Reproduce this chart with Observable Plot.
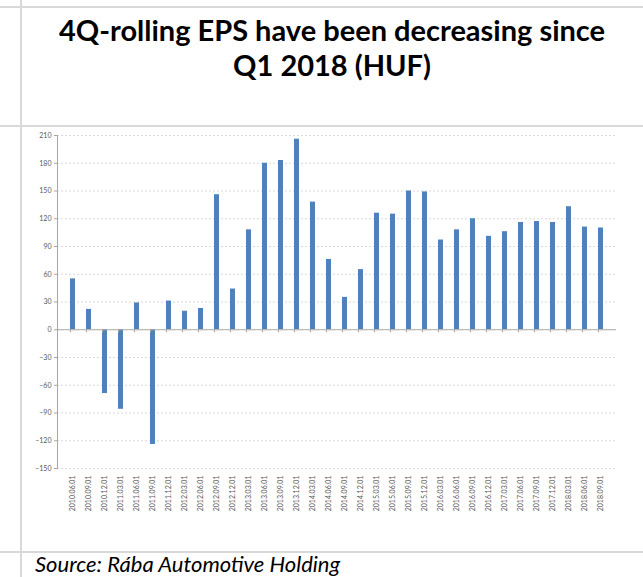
<!DOCTYPE html>
<html>
<head>
<meta charset="utf-8">
<script src="https://cdn.jsdelivr.net/npm/d3@7"></script>
<script src="https://cdn.jsdelivr.net/npm/@observablehq/plot@0.6"></script>
<style>
  html, body { margin: 0; padding: 0; background: #fff; }
  #page { position: relative; width: 643px; height: 577px; overflow: hidden; font-family: Lato, "Open Sans", sans-serif; }
  .hline { position: absolute; left: 0; width: 643px; height: 2px; background: #d9d9d9; }
  .vline { position: absolute; top: 0; width: 2px; height: 577px; background: #d9d9d9; }
  .title { position: absolute; left: 21px; width: 622px; text-align: center; font-weight: 700; font-size: 29px; line-height: 29px; color: #000; white-space: nowrap; }
  #caption { position: absolute; left: 35px; top: 553px; font-style: italic; font-size: 22px; line-height: 22px; color: #000; white-space: nowrap; }
  #chart { position: absolute; left: 0; top: 126px; }
</style>
</head>
<body>
<div id="page">
  <div class="hline" style="top:6px"></div>
  <div class="hline" style="top:125px"></div>
  <div class="hline" style="top:551px"></div>
  <div class="vline" style="left:20px"></div>
  <div class="title" style="top:15px">4Q-rolling EPS have been decreasing since</div>
  <div class="title" style="top:50px">Q1 2018 (HUF)</div>
  <div id="chart"></div>
  <div id="caption">Source: Rába Automotive Holding</div>
</div>
<script>
const dates = ["2010.06.01","2010.09.01","2010.12.01","2011.03.01","2011.06.01","2011.09.01","2011.12.01","2012.03.01","2012.06.01","2012.09.01","2012.12.01","2013.03.01","2013.06.01","2013.09.01","2013.12.01","2014.03.01","2014.06.01","2014.09.01","2014.12.01","2015.03.01","2015.06.01","2015.09.01","2015.12.01","2016.03.01","2016.06.01","2016.09.01","2016.12.01","2017.03.01","2017.06.01","2017.09.01","2017.12.01","2018.03.01","2018.06.01","2018.09.01"];
const eps = [55, 22, -69, -86, 29, -124, 31, 20, 23, 146, 44, 108, 180, 183, 206, 138, 76, 35, 65, 126, 125, 150, 149, 97, 108, 120, 101, 106, 116, 117, 116, 133, 111, 110];
const yTicks = [-150, -120, -90, -60, -30, 0, 30, 60, 90, 120, 150, 180, 210];

const data = dates.map((d, i) => ({date: d, eps: eps[i]}));

const chart = Plot.plot({
  width: 643,
  height: 426,
  marginTop: 9,
  marginBottom: 84,
  marginLeft: 57,
  marginRight: 27,
  style: {fontFamily: "Lato, 'Open Sans', sans-serif", fontSize: "7px", color: "#595959", background: "transparent"},
  x: {domain: dates, paddingInner: 0.7, paddingOuter: 0.05, label: null},
  y: {domain: [-150, 210], label: null},
  marks: [
    Plot.gridY(yTicks.filter(t => t !== 0), {stroke: "#d9d9d9", strokeOpacity: 1, strokeDasharray: "2,2"}),
    Plot.barY(data, {x: "date", y: "eps", fill: "#4f81bd"}),
    Plot.ruleY([0], {stroke: "#a6a6a6"}),
    Plot.ruleX(dates, {x: d => d, y1: 0, y2: 0, insetBottom: -3, dx: -2.5, stroke: "#a6a6a6"}),
    Plot.frame({anchor: "left", stroke: "#a6a6a6"}),
    Plot.axisY({ticks: yTicks, tickSize: 3, tickPadding: 3, stroke: "#a6a6a6", fill: "#595959", fontSize: 7}),
    Plot.axisX({tickSize: 0, tickPadding: 7, tickRotate: -90, fill: "#595959", fontSize: 7})
  ]
});
document.getElementById("chart").appendChild(chart);
</script>
</body>
</html>
